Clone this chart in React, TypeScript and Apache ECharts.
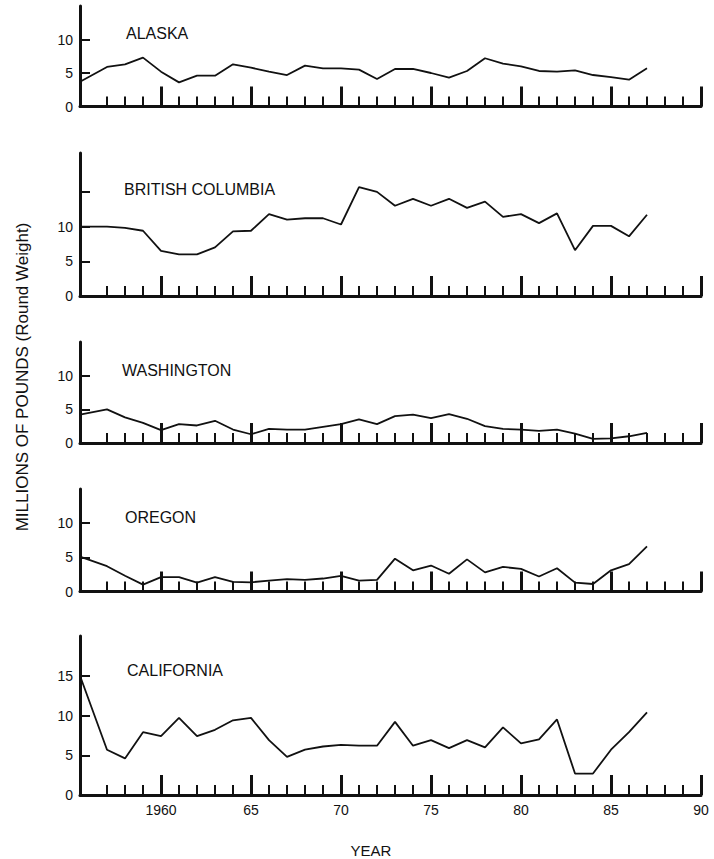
import React, { useEffect, useRef } from "react";
import * as echarts from "echarts";

const YEARS = [1955.5, 1957, 1958, 1959, 1960, 1961, 1962, 1963, 1964, 1965, 1966, 1967, 1968, 1969, 1970, 1971, 1972, 1973, 1974, 1975, 1976, 1977, 1978, 1979, 1980, 1981, 1982, 1983, 1984, 1985, 1986, 1987];

const ALASKA = [3.7, 5.9, 6.3, 7.3, 5.2, 3.6, 4.6, 4.6, 6.3, 5.8, 5.2, 4.7, 6.1, 5.7, 5.7, 5.5, 4.1, 5.6, 5.6, 5.0, 4.3, 5.3, 7.2, 6.4, 6.0, 5.3, 5.2, 5.4, 4.7, 4.4, 4.0, 5.7];
const BRITISH_COLUMBIA = [10.0, 10.0, 9.8, 9.4, 6.5, 6.0, 6.0, 7.0, 9.3, 9.4, 11.8, 11.0, 11.2, 11.2, 10.3, 15.7, 15.0, 13.0, 14.0, 13.0, 14.0, 12.7, 13.6, 11.4, 11.8, 10.5, 11.9, 6.6, 10.1, 10.1, 8.6, 11.7];
const WASHINGTON = [4.2, 5.0, 3.8, 3.0, 1.9, 2.8, 2.6, 3.3, 2.0, 1.3, 2.1, 2.0, 2.0, 2.4, 2.8, 3.5, 2.8, 4.0, 4.2, 3.7, 4.3, 3.6, 2.5, 2.1, 2.0, 1.8, 2.0, 1.4, 0.6, 0.7, 1.0, 1.5];
const OREGON = [5.1, 3.7, 2.3, 1.0, 2.1, 2.1, 1.3, 2.1, 1.4, 1.35, 1.6, 1.8, 1.7, 1.9, 2.3, 1.6, 1.7, 4.8, 3.1, 3.8, 2.6, 4.7, 2.8, 3.6, 3.3, 2.2, 3.4, 1.3, 1.1, 3.1, 4.0, 6.6];
const CALIFORNIA = [15.0, 5.7, 4.6, 7.9, 7.4, 9.7, 7.4, 8.2, 9.4, 9.7, 6.9, 4.8, 5.7, 6.1, 6.3, 6.2, 6.2, 9.2, 6.2, 6.9, 5.9, 6.9, 6.0, 8.5, 6.5, 7.0, 9.5, 2.7, 2.7, 5.7, 7.9, 10.4];

const PANEL_NAMES = ["ALASKA", "BRITISH COLUMBIA", "WASHINGTON", "OREGON", "CALIFORNIA"];
const PANEL_VALUES = [ALASKA, BRITISH_COLUMBIA, WASHINGTON, OREGON, CALIFORNIA];
const PANEL_MAX = [15, 20.6, 15, 15, 20];
const Y_TICKS = [[5, 10], [5, 10, 15], [5, 10], [5, 10], [5, 10, 15]];
const Y_LABELS = [[0, 5, 10], [0, 5, 10], [0, 5, 10], [0, 5, 10], [0, 5, 10, 15]];

const MAJOR_YEARS = [1960, 1965, 1970, 1975, 1980, 1985, 1990];
const MINOR_YEARS = [1957, 1958, 1959, 1961, 1962, 1963, 1964, 1966, 1967, 1968, 1969, 1971, 1972, 1973, 1974, 1976, 1977, 1978, 1979, 1981, 1982, 1983, 1984, 1986, 1987, 1988, 1989];

const Y_TITLE = "MILLIONS OF POUNDS (Round Weight)";
const X_TITLE = "YEAR";

// layout (pixels)
const GRID_TOP = [6, 153, 342, 489, 636];
const GRID_HEIGHT = [100.5, 143, 101, 102.5, 159];
const LABEL_POS = [[126, 33.5], [124, 189], [122, 370.5], [125, 517], [127, 670]];

const FONT = "'Liberation Sans', Arial, Helvetica, sans-serif";
const INK = "#111";

export default function App() {
  const ref = useRef<HTMLDivElement>(null);
  useEffect(() => {
    if (!ref.current) return;
    const chart = echarts.init(ref.current, undefined, { renderer: "svg" });
    const n = PANEL_NAMES.length;
    const grids: any[] = [];
    const xAxes: any[] = [];
    const yAxes: any[] = [];
    const series: any[] = [];
    const graphics: any[] = [];
    for (let i = 0; i < n; i++) {
      const last = i === n - 1;
      grids.push({ left: 80, right: 13, top: GRID_TOP[i], height: GRID_HEIGHT[i] });
      xAxes.push({
        gridIndex: i,
        type: "value",
        min: 1955.5,
        max: 1990,
        position: "bottom",
        axisLine: { show: true, onZero: false, lineStyle: { color: INK, width: 3 } },
        axisTick: { show: true, inside: true, length: 10, lineStyle: { color: INK, width: 2 }, customValues: MINOR_YEARS },
        axisLabel: { show: false },
        splitLine: { show: false },
      });
      xAxes.push({
        gridIndex: i,
        type: "value",
        min: 1955.5,
        max: 1990,
        position: "bottom",
        axisLine: { show: false, onZero: false },
        axisTick: { show: true, inside: true, length: 20, lineStyle: { color: INK, width: 3 }, customValues: MAJOR_YEARS },
        axisLabel: {
          show: last,
          customValues: MAJOR_YEARS,
          margin: 8,
          fontSize: 14,
          fontFamily: FONT,
          color: INK,
          formatter: (v: number) => (v === 1960 ? "1960" : String(v).slice(2)),
        },
        splitLine: { show: false },
      });
      yAxes.push({
        gridIndex: i,
        type: "value",
        min: 0,
        max: PANEL_MAX[i],
        axisLine: { show: true, lineStyle: { color: INK, width: 3 } },
        axisTick: { show: true, inside: true, length: 10, lineStyle: { color: INK, width: 2 }, customValues: Y_TICKS[i] },
        axisLabel: { show: true, customValues: Y_LABELS[i], margin: 7, fontSize: 14, fontFamily: FONT, color: INK },
        splitLine: { show: false },
      });
      series.push({
        type: "line",
        name: PANEL_NAMES[i],
        xAxisIndex: 2 * i,
        yAxisIndex: i,
        data: YEARS.map((y, k) => [y, PANEL_VALUES[i][k]]),
        showSymbol: false,
        symbol: "none",
        lineStyle: { color: INK, width: 1.8 },
        z: 5,
      });
      graphics.push({
        type: "text",
        x: LABEL_POS[i][0],
        y: LABEL_POS[i][1],
        style: { text: PANEL_NAMES[i], fontSize: 16, fontFamily: FONT, fill: INK, textVerticalAlign: "middle", verticalAlign: "middle" },
      });
    }
    graphics.push({
      type: "text",
      x: 22,
      y: 377,
      rotation: Math.PI / 2,
      style: { text: Y_TITLE, fontSize: 17, fontFamily: FONT, fill: INK, align: "center", verticalAlign: "middle", textAlign: "center", textVerticalAlign: "middle" },
    });
    graphics.push({
      type: "text",
      x: 371,
      y: 850,
      style: { text: X_TITLE, fontSize: 15, fontFamily: FONT, fill: INK, align: "center", verticalAlign: "middle", textAlign: "center", textVerticalAlign: "middle" },
    });
    chart.setOption({
      animation: false,
      backgroundColor: "#fff",
      grid: grids,
      xAxis: xAxes,
      yAxis: yAxes,
      series,
      graphic: graphics,
    });
    return () => chart.dispose();
  }, []);
  return <div ref={ref} style={{ position: "fixed", left: 0, top: 0, width: 714, height: 859 }} />;
}
